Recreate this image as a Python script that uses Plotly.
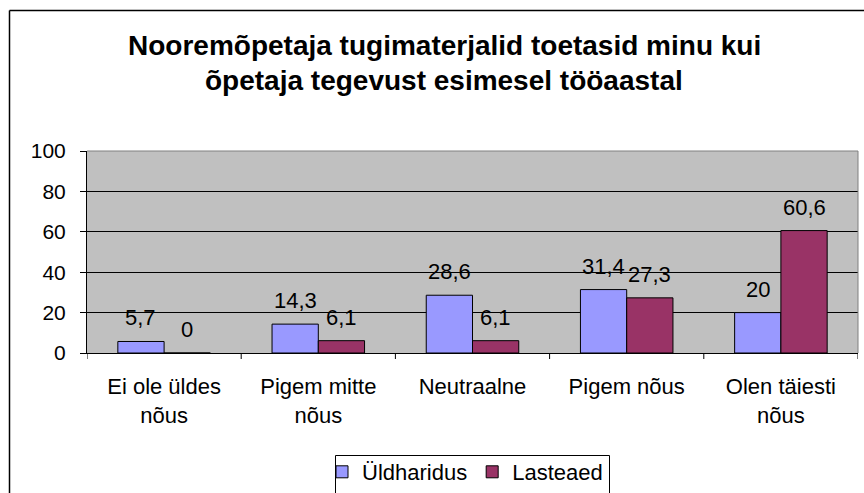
import plotly.graph_objects as go

# Survey answers and percentages per school type
categories = ["Ei ole üldes<br>nõus", "Pigem mitte<br>nõus", "Neutraalne", "Pigem nõus", "Olen täiesti<br>nõus"]
uldharidus = [5.7, 14.3, 28.6, 31.4, 20]
lasteaed = [0, 6.1, 6.1, 27.3, 60.6]
series_names = ["Üldharidus", "Lasteaed"]
y_ticks = [0, 20, 40, 60, 80, 100]
title_lines = ["Nooremõpetaja tugimaterjalid toetasid minu kui", "õpetaja tegevust esimesel tööaastal"]

W, H = 864, 493
ML, MR, MT, MB = 87, 6, 151, 140
PW, PH = W - ML - MR, H - MT - MB

FONT = "Liberation Sans, Arial, sans-serif"
C_ULD = "#9999FF"
C_LAS = "#993366"


def px_x(px):
    return (px - ML) / PW


def px_y(py):
    return (H - MB - py) / PH


def fmt(v):
    return f"{v:g}".replace(".", ",")


fig = go.Figure()
fig.add_trace(go.Bar(x=list(range(len(categories))), y=uldharidus, name=series_names[0],
                     marker=dict(color=C_ULD, line=dict(color="black", width=1))))
fig.add_trace(go.Bar(x=list(range(len(categories))), y=lasteaed, name=series_names[1],
                     marker=dict(color=C_LAS, line=dict(color="black", width=1))))

annotations = []
# value labels above each bar
for i, (a, b) in enumerate(zip(uldharidus, lasteaed)):
    for off, v in ((-0.15, a), (0.15, b)):
        annotations.append(dict(x=i + off, y=v, xref="x", yref="y", text=fmt(v),
                                showarrow=False, yanchor="bottom", yshift=9,
                                font=dict(family=FONT, size=22, color="black")))

# two-line bold title
for j, line in enumerate(title_lines):
    annotations.append(dict(x=px_x(444), y=px_y(45 + j * 36), xref="paper", yref="paper",
                            text=f"<b>{line}</b>", showarrow=False, xanchor="center", yanchor="middle",
                            font=dict(family=FONT, size=28, color="black")))

shapes = [
    # outer chart frame (top and left edges visible)
    dict(type="line", xref="paper", yref="paper", x0=px_x(9.5), x1=px_x(870), y0=px_y(10.5), y1=px_y(10.5),
         line=dict(color="black", width=1.5)),
    dict(type="line", xref="paper", yref="paper", x0=px_x(9.5), x1=px_x(9.5), y0=px_y(10.5), y1=px_y(500),
         line=dict(color="black", width=1.5)),
    # plot area border (grey top/right)
    dict(type="line", xref="paper", yref="paper", x0=0, x1=1, y0=1, y1=1, line=dict(color="#808080", width=1)),
    dict(type="line", xref="paper", yref="paper", x0=1, x1=1, y0=0, y1=1, line=dict(color="#808080", width=1)),
    # legend frame
    dict(type="rect", xref="paper", yref="paper", x0=px_x(335.5), x1=px_x(609.5), y0=px_y(500), y1=px_y(455.5),
         line=dict(color="black", width=1), fillcolor="rgba(0,0,0,0)"),
]

fig.update_layout(
    width=W, height=H,
    margin=dict(l=ML, r=MR, t=MT, b=MB, autoexpand=False),
    paper_bgcolor="white", plot_bgcolor="#C0C0C0",
    barmode="group", bargap=0.4, bargroupgap=0,
    showlegend=True,
    legend=dict(orientation="h", x=px_x(465), xanchor="center", y=px_y(472), yanchor="middle",
                font=dict(family=FONT, size=22, color="black"), bgcolor="rgba(0,0,0,0)",
                borderwidth=0, itemwidth=30, tracegroupgap=0),
    font=dict(family=FONT, size=22, color="black"),
    annotations=annotations,
    shapes=shapes,
)

fig.update_xaxes(
    type="linear", range=[-0.5, len(categories) - 0.5],
    tickvals=list(range(len(categories))), ticktext=categories,
    ticks="", showgrid=False, showline=True, linecolor="black", linewidth=1,
    tickfont=dict(family=FONT, size=22, color="black"), zeroline=False,
    ticklabelstandoff=14, automargin=False,
)
# boundary tick marks between categories
for k in range(len(categories) + 1):
    fig.add_shape(type="line", xref="x", yref="paper", x0=k - 0.5, x1=k - 0.5, y0=0, y1=px_y(H - MB + 6),
                  line=dict(color="black", width=1))

fig.update_yaxes(
    range=[0, 100], tickvals=y_ticks, ticks="outside", ticklen=6, tickcolor="black",
    showgrid=True, gridcolor="black", gridwidth=1, showline=True, linecolor="black", linewidth=1,
    zeroline=False, tickfont=dict(family=FONT, size=21, color="black"),
    ticklabelstandoff=10, automargin=False,
)

fig.write_html("out.html")
